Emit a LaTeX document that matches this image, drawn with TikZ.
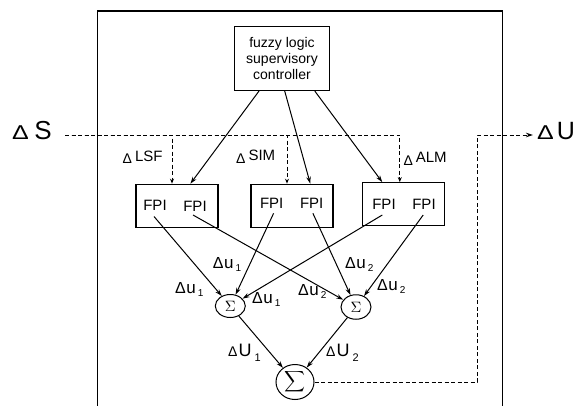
\documentclass[tikz,border=0pt]{standalone}
\usepackage{fontspec}
\setmainfont{Liberation Sans}
\usetikzlibrary{arrows.meta,shapes.geometric,calc}

% text at a given size
\newcommand\sz[2]{{\fontsize{#1}{#1}\selectfont #2}}
% increment labels: Delta u_i and Delta U_i
\newcommand\incu[1]{\sz{16}{Δ}\hspace{0.5pt}\sz{17}{u}\hspace{2pt}\raisebox{-3pt}{\sz{10}{#1}}}
\newcommand\incU[1]{\sz{14}{Δ}\hspace{1pt}\sz{18}{U}\hspace{3pt}\raisebox{-5pt}{\sz{11}{#1}}}
% Delta-prefixed scaling-factor labels
\newcommand\incname[2]{\raisebox{#1}{\sz{14}{Δ}}\hspace{3pt}\sz{15}{#2}}

\begin{document}
\begin{tikzpicture}[x=1pt,y=-1pt,
  box/.style={draw,line width=1.1pt,inner sep=0pt},
  sumnode/.style={draw,ellipse,line width=1pt,inner sep=0pt},
  lbl/.style={inner sep=0pt},
  fpi/.style={inner sep=0pt,font=\fontsize{15}{15}\selectfont},
  flow/.style={line width=1pt,-{Stealth[length=7pt,width=4.5pt]}},
  dsh/.style={line width=1pt,dash pattern=on 4pt off 2.5pt},
  dtip/.style={-{Stealth[open,length=5pt,width=4pt]}},
]
\useasboundingbox (0,0) rectangle (582,405);

% enclosing frame (open at the bottom)
\draw[line width=1.2pt] (97.5,406) -- (97.5,11) -- (502.5,11) -- (502.5,406);

% supervisory controller
\node[box,minimum width=95pt,minimum height=64pt,align=center,
      font=\fontsize{14}{15.8}\selectfont] (sup) at (282,58.5)
  {fuzzy logic\\supervisory\\controller};

% FPI blocks
\node[box,minimum width=82pt,minimum height=43.5pt] (bA) at (177,206) {};
\node[box,minimum width=82pt,minimum height=43.5pt] (bB) at (292,206) {};
\node[box,minimum width=82.4pt,minimum height=43pt] (bC) at (403.5,204.2) {};

\node[fpi] (a1) at (155,205) {FPI};
\node[fpi] (a2) at (195,206) {FPI};
\node[fpi] (b1) at (271.7,203) {FPI};
\node[fpi] (b2) at (311.7,203.8) {FPI};
\node[fpi] (c1) at (384,204) {FPI};
\node[fpi] (c2) at (424,204) {FPI};

% summing junctions
\node[sumnode,minimum width=30pt,minimum height=23pt] (sL) at (230.3,306) {\scalebox{1.5}{$\Sigma$}};
\node[sumnode,minimum width=30pt,minimum height=24.5pt] (sR) at (356,307) {\scalebox{1.5}{$\Sigma$}};
\node[sumnode,minimum width=38pt,minimum height=35pt] (sB) at (295,382) {\resizebox{21pt}{!}{$\displaystyle\sum$}};

% input / output labels
\node[lbl,anchor=base west] (dS) at (12,139.3) {\scalebox{1.25}[1]{\sz{20}{Δ}}\hspace{5.5pt}\sz{26}{S}};
\node[lbl,anchor=base west] (dU) at (537,139.3) {\scalebox{1.25}[1]{\sz{20}{Δ}}\hspace{3pt}\sz{25}{U}};

% scaling-factor labels
\node[lbl,anchor=base west] (lsf) at (122.5,161.7) {\incname{-1.6pt}{LSF}};
\node[lbl,anchor=base west] (sim) at (236,160) {\incname{-3.3pt}{SIM}};
\node[lbl,anchor=base west] (alm) at (403.3,162.7) {\incname{-2.3pt}{ALM}};

% supervisor outputs to the FPI blocks
\draw[flow] ([xshift=-23pt]sup.south) -- ([xshift=13.4pt]bA.north);
\draw[flow] ([xshift=2.7pt]sup.south) -- ([xshift=18.3pt]bB.north);
\draw[flow] ([xshift=32.8pt]sup.south) -- ([xshift=-21.2pt]bC.north);

% dashed input distribution
\coordinate (sIn) at (65,135);
\draw[dsh,dtip] (sIn) -| ([xshift=-5pt]bA.north);
\draw[dsh,dtip] (sIn) -| ([xshift=-5pt]bB.north);
\draw[dsh,dtip] (sIn) -| ([xshift=-3.7pt]bC.north);

% FPI outputs to the summing junctions
\coordinate (a1o) at (154,216.5);
\coordinate (a2o) at (193,215);
\coordinate (b1o) at (273.6,213.3);
\coordinate (b2o) at (312.9,213.3);
\coordinate (c1o) at (382.3,215);
\coordinate (c2o) at (423.2,215);
\draw[flow] (a1o) -- (sL);
\draw[flow] (b1o) -- (sL);
\draw[flow] (c1o) -- (sL);
\draw[flow] (a2o) -- (sR);
\draw[flow] (b2o) -- (sR);
\draw[flow] (c2o) -- (sR);
\draw[flow] (sL) -- (sB);
\draw[flow] (sR) -- (sB);

% dashed output
\coordinate (turn) at (477,135);
\coordinate (uOut) at (533,135);
\draw[dsh,-{Stealth[length=7pt,width=4.5pt]}] (sB.east) -| (turn) -- (uOut);

% increment labels
\node[lbl,anchor=base west] (u1a) at (175,293) {\incu{1}};
\node[lbl,anchor=base west] (u1b) at (212.7,268.3) {\incu{1}};
\node[lbl,anchor=base west] (u1c) at (252,303) {\incu{1}};
\node[lbl,anchor=base west] (u2a) at (345,268.3) {\incu{2}};
\node[lbl,anchor=base west] (u2b) at (298,295) {\incu{2}};
\node[lbl,anchor=base west] (u2c) at (377,290) {\incu{2}};
\node[lbl,anchor=base west] (U1) at (228,356) {\incU{1}};
\node[lbl,anchor=base west] (U2) at (326,356) {\incU{2}};
\end{tikzpicture}
\end{document}
